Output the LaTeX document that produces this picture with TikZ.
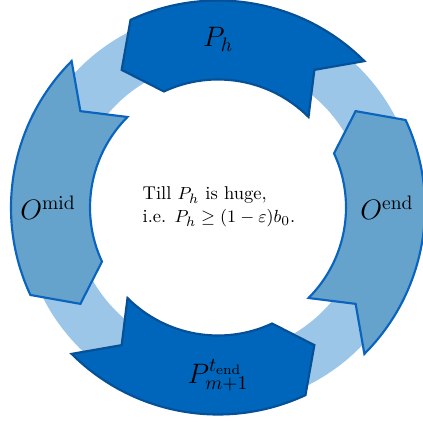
\documentclass[tikz,border=0pt]{standalone}
\usetikzlibrary{calc}
\definecolor{ringc}{RGB}{155,198,232}
\definecolor{darkfill}{RGB}{0,102,187}
\definecolor{darkline}{RGB}{5,80,150}
\definecolor{lightfill}{RGB}{102,163,204}
\definecolor{lightline}{RGB}{10,100,190}
\newcommand\mycycarrow[2]{%
  \draw[#2] ($(c)+(#1-45:207)$) arc[start angle=#1-45,end angle=#1+25,radius=207]
    -- ($(c)+(#1+35:168)$) -- ($(c)+(#1+25:128)$)
    arc[start angle=#1+25,end angle=#1-45,radius=128]
    -- ($(c)+(#1-35:168)$) -- cycle;}
\begin{document}
\begin{tikzpicture}[x=0.5128pt,y=0.5128pt,
  darkarrow/.style={fill=darkfill,draw=darkline,line width=1.1pt},
  lightarrow/.style={fill=lightfill,draw=lightline,line width=1.1pt},
  lbl/.style={font=\Large,inner sep=0pt}]
\useasboundingbox (0,0) rectangle (423,421);
\coordinate (c) at (218,213.5);
\fill[ringc,even odd rule] (219.5,213) circle[radius=198] (219.5,213) circle[radius=146];
\mycycarrow{90}{darkarrow}
\mycycarrow{180}{lightarrow}
\mycycarrow{-90}{darkarrow}
\mycycarrow{0}{lightarrow}
\node[lbl] (ph) at ($(c)+(90:168)$) {$P_h$};
\node[lbl] (omid) at ($(c)+(180:170)$) {$O^{\mathrm{mid}}$};
\node[lbl] (pm) at ($(c)+(-90:168)$) {$P_{m+1}^{t_{\mathrm{end}}}$};
\node[lbl] (oend) at ($(c)+(0:169)$) {$O^{\mathrm{end}}$};
\node[align=left,inner sep=0pt,font=\fontsize{9.5}{11.8}\selectfont] (txt) at (219,214) {Till $P_h$ is huge,\\ i.e. $P_h\geq(1-\varepsilon)b_0$.};
\end{tikzpicture}
\end{document}
